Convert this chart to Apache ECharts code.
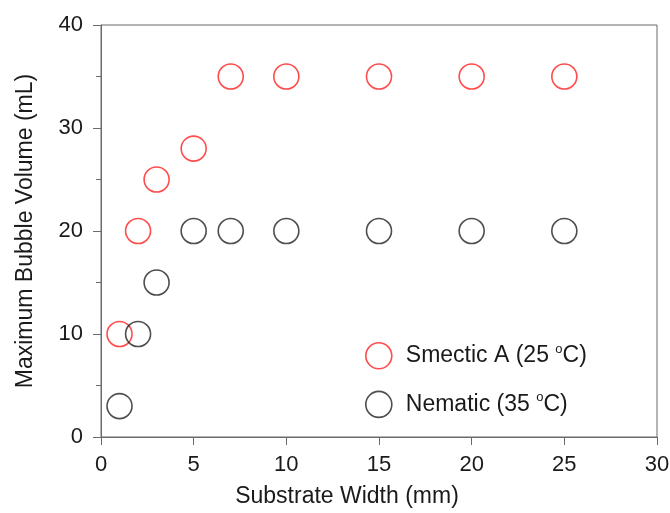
<!DOCTYPE html>
<html>
<head>
<meta charset="utf-8">
<script src="https://cdn.jsdelivr.net/npm/echarts@6/dist/echarts.min.js"></script>
<style>
  html, body { margin: 0; padding: 0; background: #fff; }
  #chart { width: 670px; height: 513px; }
</style>
</head>
<body>
<div id="chart"></div>
<script>
// substrate widths (mm)
const widths = [1, 2, 3, 5, 7, 10, 15, 20, 25]
// maximum bubble volume (mL)
const smecticA = [10, 20, 25, 28, 35, 35, 35, 35, 35]
const nematic = [3, 10, 15, 20, 20, 20, 20, 20, 20]

const seriesNames = ['Smectic A (25 °C)', 'Nematic (35 °C)']
const seriesColors = ['#ff2020', '#222222']

const font = 'Liberation Sans, Arial, sans-serif'
const axisColor = '#6a6a6a'
const textColor = '#1a1a1a'

const chart = echarts.init(document.getElementById('chart'))

const pairs = (ys) => widths.map((x, i) => [x, ys[i]])

const makeSeries = (name, ys, color) => ({
  name,
  type: 'scatter',
  data: pairs(ys),
  symbol: 'circle',
  symbolSize: 25,
  itemStyle: { color: 'transparent', borderColor: color, borderWidth: 1.6 },
  emphasis: { disabled: true }
})

chart.setOption({
  animation: false,
  grid: {
    left: 101, top: 25, right: 13, bottom: 76,
    outerBoundsMode: 'none',
    show: true, borderColor: axisColor, borderWidth: 1
  },
  legend: {
    left: 360,
    top: 337,
    orient: 'vertical',
    itemGap: 21,
    itemWidth: 26,
    itemHeight: 26,
    icon: 'circle',
    data: seriesNames.map((n, i) => ({
      name: n,
      itemStyle: { color: 'transparent', borderColor: seriesColors[i], borderWidth: 1.6 }
    })),
    formatter: (name) => {
      const [head, tail] = name.split(' °')
      return '{g|}{t|' + head + ' }{s|o}{t|' + tail + '}'
    },
    textStyle: {
      rich: {
        g: { width: 9, lineHeight: 26 },
        t: { fontFamily: font, fontSize: 23, color: textColor, lineHeight: 26 },
        s: { fontFamily: font, fontSize: 13, color: textColor, verticalAlign: 'top', lineHeight: 16, padding: [0, 0, 8, 0] }
      }
    }
  },
  xAxis: {
    type: 'value',
    min: 0,
    max: 30,
    interval: 5,
    name: 'Substrate Width (mm)',
    nameLocation: 'middle',
    nameGap: 48,
    nameTextStyle: { fontFamily: font, fontSize: 23, color: textColor, padding: [0, 64, 0, 0] },
    axisLine: { show: true, lineStyle: { color: axisColor } },
    axisTick: { show: true, inside: false, length: 8, lineStyle: { color: axisColor } },
    axisLabel: { fontFamily: font, fontSize: 22, color: textColor, margin: 17 },
    splitLine: { show: false }
  },
  yAxis: {
    type: 'value',
    min: 0,
    max: 40,
    interval: 10,
    name: 'Maximum Bubble Volume (mL)',
    nameLocation: 'middle',
    nameGap: 64,
    nameTextStyle: { fontFamily: font, fontSize: 23, color: textColor },
    axisLine: { show: true, lineStyle: { color: axisColor } },
    axisTick: { show: true, inside: false, length: 8, lineStyle: { color: axisColor } },
    minorTick: { show: true, splitNumber: 2, length: 5, lineStyle: { color: axisColor } },
    axisLabel: { fontFamily: font, fontSize: 22, color: textColor, margin: 18 },
    splitLine: { show: false }
  },
  series: [
    makeSeries(seriesNames[0], smecticA, seriesColors[0]),
    makeSeries(seriesNames[1], nematic, seriesColors[1])
  ]
})
</script>
</body>
</html>
